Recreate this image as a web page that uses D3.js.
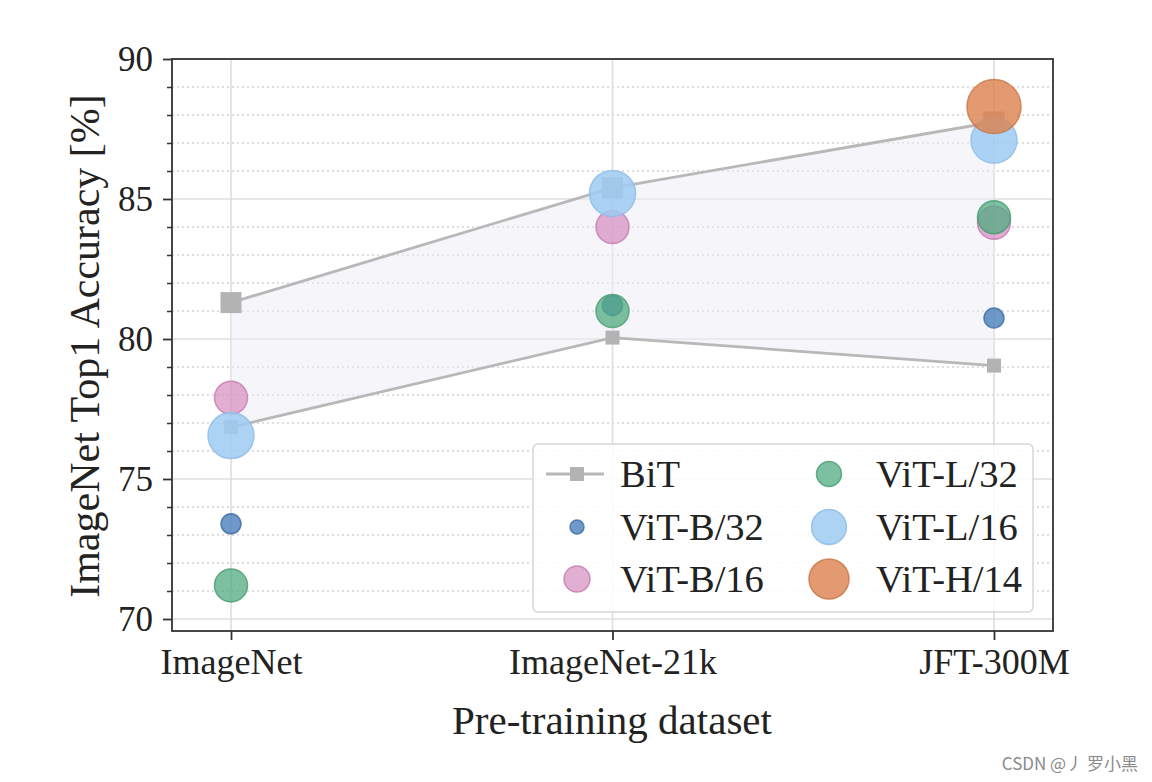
<!DOCTYPE html>
<html>
<head>
<meta charset="utf-8">
<script src="https://cdn.jsdelivr.net/npm/d3@7"></script>
<style>
  html, body { margin: 0; padding: 0; background: #ffffff; }
  svg { display: block; }
</style>
</head>
<body>
<svg id="chart" width="1152" height="782"></svg>
<script>
// ---- data ----
const datasets = ["ImageNet", "ImageNet-21k", "JFT-300M"];
const bitUpper = [81.3, 85.4, 87.75];
const bitLower = [76.85, 80.05, 79.05];
const vitB32 = [73.4, 81.2, 80.75];
const vitB16 = [77.9, 84.0, 84.15];
const vitL32 = [71.2, 81.0, 84.35];
const vitL16 = [76.55, 85.2, 87.1];
const vitH14 = [null, null, 88.3];
const yMajorTicks = [70, 75, 80, 85, 90];
const yMinorTicks = d3.range(70, 91, 1);
const seriesNames = ["ViT-B/32", "ViT-B/16", "ViT-L/32", "ViT-L/16", "ViT-H/14"];
const seriesValues = [vitB32, vitB16, vitL32, vitL16, vitH14];

// ---- styles ----
const seriesStyle = {
  "ViT-B/32": { fill: "#4a80ba", stroke: "#3b6aa0", r: 10, lr: 7, op: 0.8 },
  "ViT-B/16": { fill: "#d58cbf", stroke: "#c47aae", r: 16.5, lr: 13, op: 0.7 },
  "ViT-L/32": { fill: "#52ab80", stroke: "#479c70", r: 16.5, lr: 12.5, op: 0.75 },
  "ViT-L/16": { fill: "#9ecaf2", stroke: "#8dbbe6", r: 23, lr: 17.5, op: 0.85 },
  "ViT-H/14": { fill: "#dd8452", stroke: "#c97444", r: 27, lr: 20, op: 0.82 }
};
const serif = "'Liberation Serif', 'DejaVu Serif', serif";

const svg = d3.select("#chart");
const L = 172, R = 1053, T = 59, B = 631;

const x = d3.scalePoint().domain(datasets).range([231, 994]);
const y = d3.scaleLinear().domain([90 - (B - T) / 28, 90]).range([B, T]);

// ---- grid ----
const grid = svg.append("g");
grid.selectAll("line.minor").data(yMinorTicks.filter(v => v % 5 !== 0)).join("line")
  .attr("x1", L).attr("x2", R).attr("y1", d => y(d)).attr("y2", d => y(d))
  .attr("stroke", "#d4d4d4").attr("stroke-width", 1.3).attr("stroke-dasharray", "2,3");
grid.selectAll("line.major").data(yMajorTicks).join("line")
  .attr("x1", L).attr("x2", R).attr("y1", d => y(d)).attr("y2", d => y(d))
  .attr("stroke", "#dedede").attr("stroke-width", 1.6);
grid.selectAll("line.vert").data(datasets).join("line")
  .attr("x1", d => x(d)).attr("x2", d => x(d)).attr("y1", T).attr("y2", B)
  .attr("stroke", "#dedede").attr("stroke-width", 1.6);

// ---- BiT band ----
const area = d3.area()
  .x((d, i) => x(datasets[i]))
  .y0((d, i) => y(bitLower[i]))
  .y1((d, i) => y(bitUpper[i]));
svg.append("path").datum(bitUpper).attr("d", area)
  .attr("fill", "#ececf5").attr("opacity", 0.5);

const line = d3.line().x((d, i) => x(datasets[i])).y(d => y(d));
[bitUpper, bitLower].forEach((arr, k) => {
  svg.append("path").datum(arr).attr("d", line)
    .attr("fill", "none").attr("stroke", "#b8b8b8").attr("stroke-width", 2.8);
  const s = k === 0 ? 21 : 14;
  svg.selectAll(null).data(arr).join("rect")
    .attr("x", (d, i) => x(datasets[i]) - s / 2)
    .attr("y", d => y(d) - s / 2)
    .attr("width", s).attr("height", s)
    .attr("fill", "#b3b3b3");
});

// ---- ViT circles ----
seriesNames.forEach((name, k) => {
  const st = seriesStyle[name];
  const pts = seriesValues[k].map((v, i) => ({ v, c: datasets[i] })).filter(p => p.v !== null);
  svg.selectAll(null).data(pts).join("circle")
    .attr("cx", d => x(d.c)).attr("cy", d => y(d.v)).attr("r", st.r)
    .attr("fill", st.fill).attr("fill-opacity", st.op)
    .attr("stroke", st.stroke).attr("stroke-opacity", 0.8).attr("stroke-width", 1.5);
});

// ---- frame ----
svg.append("rect").attr("x", L).attr("y", T).attr("width", R - L).attr("height", B - T)
  .attr("fill", "none").attr("stroke", "#333").attr("stroke-width", 1.8);

// ---- axes ----
const yAxis = d3.axisLeft(y).tickValues(yMajorTicks).tickSize(9).tickPadding(10).tickFormat(d3.format("d"));
const gy = svg.append("g").attr("transform", `translate(${L},0)`).call(yAxis);
gy.select(".domain").remove();
gy.selectAll(".tick line").attr("stroke", "#333").attr("stroke-width", 1.8);
gy.selectAll(".tick text").attr("font-family", serif).attr("font-size", 35).attr("fill", "#222");

const yMinorAxis = d3.axisLeft(y).tickValues(yMinorTicks.filter(v => v % 5 !== 0)).tickSize(5).tickFormat("");
const gym = svg.append("g").attr("transform", `translate(${L},0)`).call(yMinorAxis);
gym.select(".domain").remove();
gym.selectAll(".tick line").attr("stroke", "#333").attr("stroke-width", 1.5);

const xAxis = d3.axisBottom(x).tickSize(9).tickPadding(8);
const gx = svg.append("g").attr("transform", `translate(0,${B})`).call(xAxis);
gx.select(".domain").remove();
gx.selectAll(".tick line").attr("stroke", "#333").attr("stroke-width", 1.8);
gx.selectAll(".tick text").attr("font-family", serif).attr("font-size", 36).attr("fill", "#222");

// ---- axis titles ----
svg.append("text").attr("x", 612).attr("y", 734).attr("text-anchor", "middle")
  .attr("font-family", serif).attr("font-size", 41).attr("fill", "#222")
  .text("Pre-training dataset");
svg.append("text").attr("transform", "translate(99,346) rotate(-90)").attr("text-anchor", "middle")
  .attr("font-family", serif).attr("font-size", 42).attr("fill", "#222")
  .text("ImageNet Top1 Accuracy [%]");

// ---- legend ----
const lg = svg.append("g");
lg.append("rect").attr("x", 533).attr("y", 444).attr("width", 500).attr("height", 168)
  .attr("rx", 5).attr("fill", "#fff").attr("fill-opacity", 0.85)
  .attr("stroke", "#d6d6d6").attr("stroke-width", 1.5);
const rowsY = [474, 527, 579];
const legendItems = [
  { name: "BiT", col: 0, row: 0 },
  { name: "ViT-B/32", col: 0, row: 1 },
  { name: "ViT-B/16", col: 0, row: 2 },
  { name: "ViT-L/32", col: 1, row: 0 },
  { name: "ViT-L/16", col: 1, row: 1 },
  { name: "ViT-H/14", col: 1, row: 2 }
];
const colMarkerX = [577, 829];
const colTextX = [620, 876];
legendItems.forEach(it => {
  const cy = rowsY[it.row];
  const mx = colMarkerX[it.col];
  if (it.name === "BiT") {
    lg.append("line").attr("x1", mx - 31).attr("x2", mx + 27).attr("y1", cy).attr("y2", cy)
      .attr("stroke", "#b8b8b8").attr("stroke-width", 2.8);
    lg.append("rect").attr("x", mx - 7).attr("y", cy - 7).attr("width", 14).attr("height", 14)
      .attr("fill", "#b3b3b3");
  } else {
    const st = seriesStyle[it.name];
    lg.append("circle").attr("cx", mx).attr("cy", cy).attr("r", st.lr)
      .attr("fill", st.fill).attr("fill-opacity", st.op)
      .attr("stroke", st.stroke).attr("stroke-opacity", 0.8).attr("stroke-width", 1.5);
  }
  lg.append("text").attr("x", colTextX[it.col]).attr("y", cy + 13)
    .attr("font-family", serif).attr("font-size", 38.5).attr("fill", "#222")
    .text(it.name);
});

// ---- watermark ----
svg.append("text").attr("x", 1138).attr("y", 770).attr("text-anchor", "end")
  .attr("font-family", "'Noto Sans CJK SC', 'Noto Sans', sans-serif").attr("font-size", 17)
  .attr("fill", "#8a8a8a").text("CSDN @丿 罗小黑");
</script>
</body>
</html>
